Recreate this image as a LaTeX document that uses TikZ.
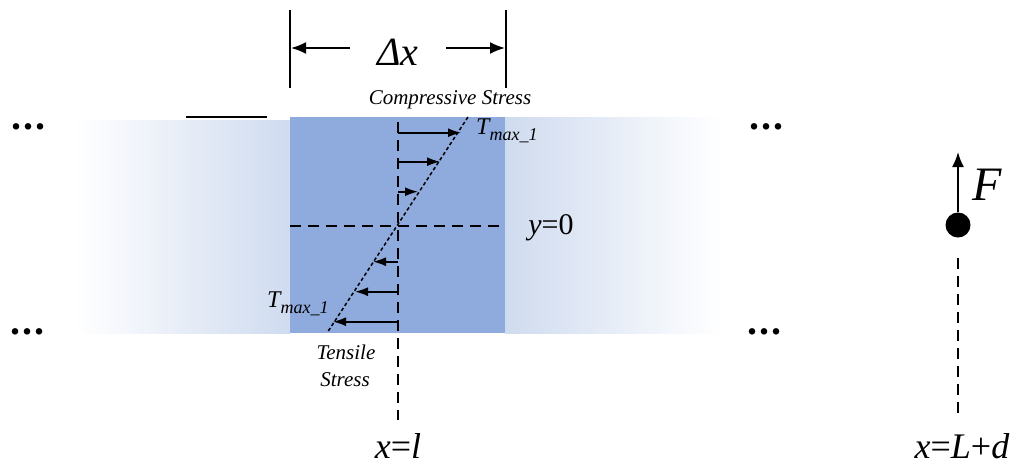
\documentclass[tikz,border=0pt]{standalone}
\usepackage{fontspec}
\setmainfont{Liberation Serif}
\usetikzlibrary{arrows.meta}
\definecolor{midblue}{RGB}{143,170,220}
\definecolor{paleblue}{RGB}{207,219,239}
\tikzset{
  lbl/.style={inner sep=0pt, font=\itshape},
  stressarrow/.style={-{Latex[length=13pt,width=9pt]}, line width=1.6pt},
  dimarrow/.style={-{Latex[length=15pt,width=12pt]}, line width=1.8pt},
  dashline/.style={dash pattern=on 11pt off 7pt, line width=1.5pt},
  dots/.style={inner sep=0pt, font=\fontsize{40}{40}\selectfont\bfseries}
}
\newcommand{\mydots}{.\kern2pt.\kern2pt.}
\begin{document}
\begin{tikzpicture}[x=1pt,y=-1pt]
\useasboundingbox (0,0) rectangle (1028,467);
% bars
\shade[left color=white, right color=paleblue] (75,120) rectangle (290,333);
\shade[left color=paleblue, right color=white] (505,117) rectangle (722,333);
\fill[midblue] (290,117) rectangle (505,333);
\draw[line width=1.8pt] (186,117) -- (267,117);
% dots
\node[dots] (dl1) at (29,127) {\mydots};
\node[dots] (dl2) at (27,332) {\mydots};
\node[dots] (dr1) at (766,127) {\mydots};
\node[dots] (dr2) at (764,332) {\mydots};
% dimension
\coordinate (d1t) at (290,10); \coordinate (d1b) at (290,88);
\coordinate (d2t) at (506,10); \coordinate (d2b) at (506,88);
\draw[line width=1.8pt] (d1t) -- (d1b);
\draw[line width=1.8pt] (d2t) -- (d2b);
\coordinate (a1s) at (350,48); \coordinate (a1e) at (291,48);
\coordinate (a2s) at (446,48); \coordinate (a2e) at (505,48);
\draw[dimarrow] (a1s) -- (a1e);
\draw[dimarrow] (a2s) -- (a2e);
\node[lbl, font=\fontsize{40}{40}\selectfont\itshape] (dx) at (398,52) {Δx};
\node[lbl, font=\fontsize{21}{21}\selectfont\itshape] (comp) at (450,100) {Compressive Stress};
% axes
\coordinate (vt) at (398,122); \coordinate (vb) at (398,420);
\draw[dashline] (vt) -- (vb);
\coordinate (hl) at (290,226); \coordinate (hr) at (505,226);
\draw[dashline] (hl) -- (hr);
\node[inner sep=0pt, font=\fontsize{30}{30}\selectfont] (y0) at (551,228) {\textit{y}=0};
% stress profile
\coordinate (pt) at (468,117); \coordinate (pb) at (327,333);
\draw[line width=1.5pt, dash pattern=on 3.5pt off 2.5pt] (pt) -- (pb);
\foreach \y/\x/\n in {132.7/461/1,161.7/440/2,191.7/418/3}{
  \coordinate (s\n) at (398,\y); \coordinate (e\n) at (\x,\y);
  \draw[stressarrow] (s\n) -- (e\n);
}
\foreach \y/\x/\n in {261.7/373/4,291.7/355/5,321.7/333/6}{
  \coordinate (s\n) at (398,\y); \coordinate (e\n) at (\x,\y);
  \draw[stressarrow] (s\n) -- (e\n);
}
\node[lbl, font=\fontsize{24}{24}\selectfont\itshape, anchor=west] (tm1) at (476,131) {T\raisebox{-6pt}{\fontsize{18}{18}\selectfont max\_1}};
\node[lbl, font=\fontsize{24}{24}\selectfont\itshape, anchor=west] (tm2) at (267,304) {T\raisebox{-6pt}{\fontsize{18}{18}\selectfont max\_1}};
\node[lbl, font=\fontsize{21}{21}\selectfont\itshape] (ten) at (346,352) {Tensile};
\node[lbl, font=\fontsize{21}{21}\selectfont\itshape] (str) at (345,380) {Stress};
\node[inner sep=0pt, font=\fontsize{36}{36}\selectfont] (xl) at (398,446) {\textit{x}=\textit{l}};
% force
\node[circle, fill=black, minimum size=25pt, inner sep=0pt] (dot) at (958,225) {};
\coordinate (ftip) at (958,152);
\draw[-{Latex[length=15pt,width=12pt]}, line width=1.8pt] (dot.north) -- (ftip);
\node[inner sep=0pt, font=\fontsize{48}{48}\selectfont\itshape] (F) at (987,185) {F};
\coordinate (rt) at (958,258); \coordinate (rb) at (958,418);
\draw[dashline] (rt) -- (rb);
\node[inner sep=0pt, font=\fontsize{36}{36}\selectfont] (xld) at (962,446) {\textit{x}=\textit{L}+\textit{d}};
\end{tikzpicture}
\end{document}
